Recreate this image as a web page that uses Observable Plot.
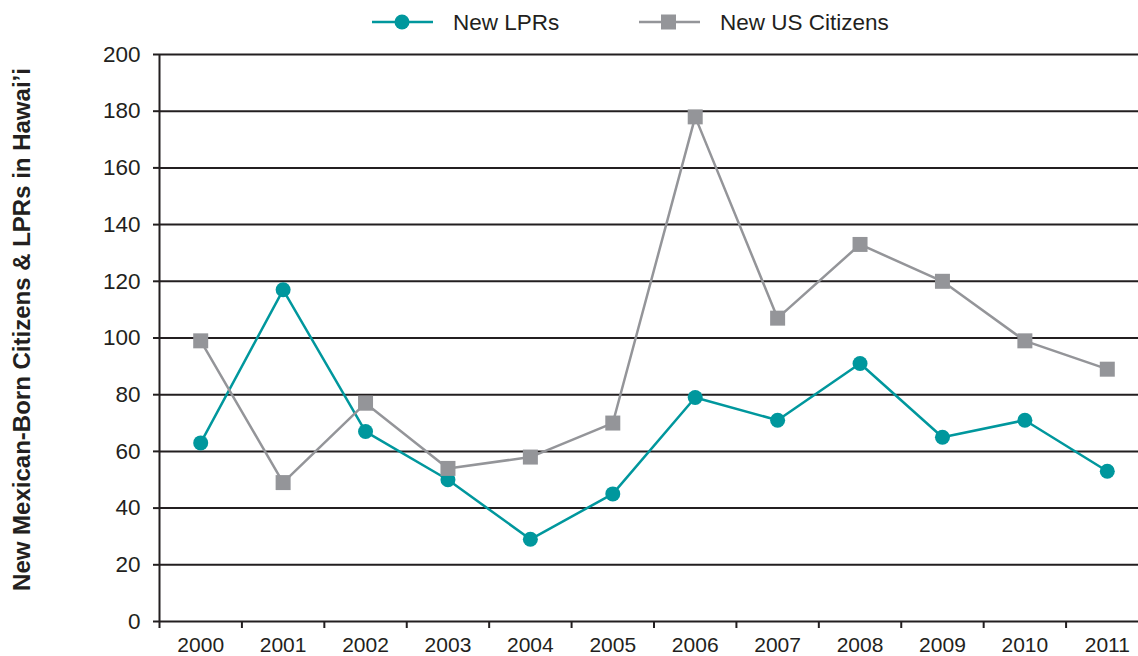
<!DOCTYPE html>
<html><head><meta charset="utf-8">
<script src="https://cdn.jsdelivr.net/npm/d3@7"></script>
<script src="https://cdn.jsdelivr.net/npm/@observablehq/plot@0.6"></script>
<style>
html,body{margin:0;padding:0;background:#fff;overflow:hidden;}
body{font-family:"Liberation Sans",Arial,sans-serif;color:#231f20;}
#legend{display:block;}
#chart svg{overflow:hidden;}
</style></head>
<body><div id="legend"></div><div id="chart"></div>
<script>
const years = [2000,2001,2002,2003,2004,2005,2006,2007,2008,2009,2010,2011];
const newLPRs = [63,117,67,50,29,45,79,71,91,65,71,53];
const newCitizens = [99,49,77,54,58,70,178,107,133,120,99,89];
const yTicks = [0,20,40,60,80,100,120,140,160,180,200];
const seriesNames = ["New LPRs","New US Citizens"];
const yTitle = "New Mexican-Born Citizens & LPRs in Hawai’i";

const teal = "#00979d";
const gray = "#949599";
const ink = "#231f20";

const lpr = years.map((year,i)=>({year, value:newLPRs[i], series:seriesNames[0]}));
const cit = years.map((year,i)=>({year, value:newCitizens[i], series:seriesNames[1]}));
const boundaries = years.map(y=>y-0.5).concat([years[years.length-1]+0.5]);

// Legend
const lg = d3.select("#legend").append("svg").attr("width",1138).attr("height",40).style("display","block");
const items = [
  {name:seriesNames[0], color:teal, x:372, sym:"circle"},
  {name:seriesNames[1], color:gray, x:639, sym:"square"}
];
for (const it of items) {
  const g = lg.append("g").attr("transform",`translate(${it.x},22)`);
  g.append("line").attr("x1",0).attr("x2",61).attr("stroke",it.color).attr("stroke-width",2.5);
  if (it.sym==="circle") g.append("circle").attr("cx",30).attr("r",7.5).attr("fill",it.color);
  else g.append("rect").attr("x",22).attr("y",-7.5).attr("width",15).attr("height",15).attr("fill",it.color);
  g.append("text").attr("x",81).attr("dy","0.35em").attr("font-size",22.5).attr("fill",ink)
    .attr("font-family","Liberation Sans, Arial, sans-serif").text(it.name);
}

const chart = Plot.plot({
  width:1138, height:616,
  marginLeft:159, marginRight:-10, marginTop:14, marginBottom:35,
  x:{type:"linear", domain:[years[0]-0.5, years[years.length-1]+0.5]},
  y:{domain:[0,200]},
  style:{fontFamily:"Liberation Sans, Arial, sans-serif", fontSize:"21px", color:ink, background:"#fff", overflow:"hidden"},
  marks:[
    Plot.ruleY(yTicks, {stroke:ink, strokeWidth:2}),
    Plot.ruleX([years[0]-0.5], {stroke:ink, strokeWidth:2}),
    Plot.axisY({ticks:yTicks, tickSize:6, tickPadding:13, tickFormat:d=>String(d), label:null, stroke:ink, strokeWidth:2, strokeOpacity:1, fontSize:22.5}),
    Plot.axisX({ticks:boundaries, tickSize:7, tickFormat:()=>"", label:null, stroke:ink, strokeWidth:2, strokeOpacity:1}),
    Plot.axisX({ticks:years, tickSize:0, tickPadding:16, tickFormat:d=>String(d), label:null, fontSize:21}),
    Plot.line(lpr, {x:"year", y:"value", stroke:teal, strokeWidth:2.5}),
    Plot.dot(lpr, {x:"year", y:"value", symbol:"circle", r:7.5, fill:teal}),
    Plot.line(cit, {x:"year", y:"value", stroke:gray, strokeWidth:2.5}),
    Plot.dot(cit, {x:"year", y:"value", symbol:"square", r:8.46, fill:gray}),
    Plot.text([yTitle], {frameAnchor:"left", textAnchor:"middle", rotate:-90, dx:-137, dy:-8.5, fontWeight:"bold", fontSize:24, fill:ink})
  ]
});
document.getElementById("chart").appendChild(chart);
</script>
</body></html>
